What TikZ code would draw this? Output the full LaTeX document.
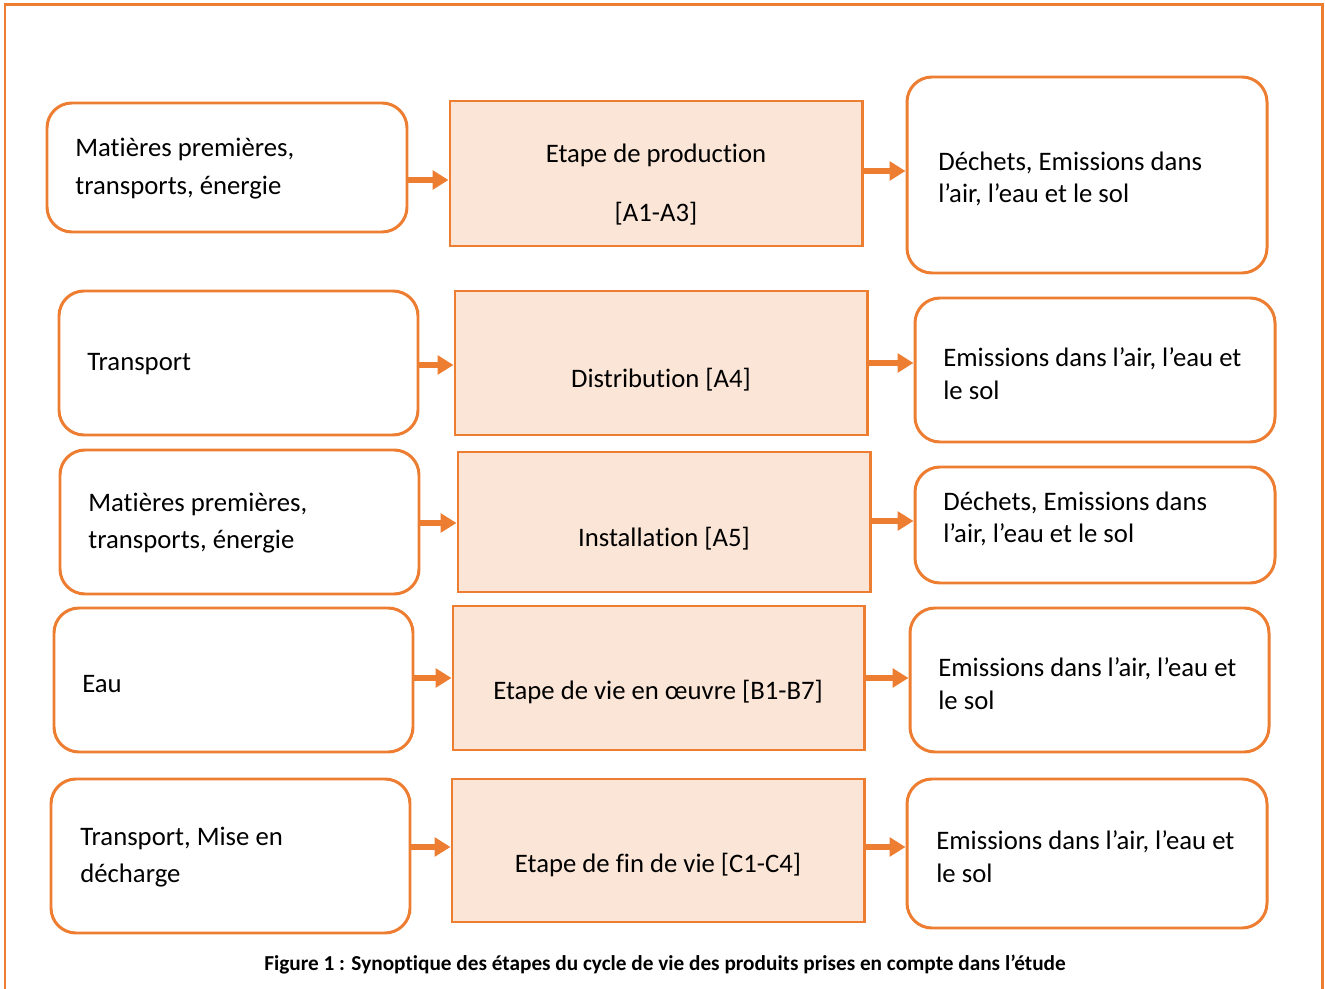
\documentclass[tikz,border=0pt]{standalone}
\usepackage{fontspec}
\setmainfont[Ligatures={TeX,NoCommon}]{Carlito}
\usetikzlibrary{arrows.meta,fit}
\definecolor{org}{HTML}{ED7D31}
\definecolor{pch}{HTML}{FBE5D6}
\begin{document}
\begin{tikzpicture}[x=0.02cm,y=-0.02cm,
  inbox/.style={draw=org, line width=1.7pt, rounded corners=0.5cm, inner sep=0pt},
  stepbox/.style={draw=org, line width=1.7pt, fill=pch, inner sep=0pt},
  arr/.style={draw=org, line width=3pt, -{Triangle[length=9pt,width=10.5pt]}},
  lt/.style={anchor=west, align=left, font=\fontsize{15.2}{21.5}\selectfont, inner sep=0pt},
  rt/.style={anchor=west, align=left, font=\fontsize{15.2}{18.7}\selectfont, inner sep=0pt},
  mt/.style={anchor=center, align=center, font=\fontsize{15.2}{16}\selectfont, inner sep=0pt}]
\useasboundingbox (0,0) rectangle (1325,989);
\draw[org, line width=1.7pt] (5,1000) -- (5,5) -- (1322,5) -- (1322,1000);
% row 1
\node[inbox, fit={(47,103) (407,232)}] (l1) {};
\node[stepbox, fit={(450,101) (862,246)}] (m1) {};
\node[inbox, fit={(907,77) (1267,273)}] (r1) {};
% row 2
\node[inbox, fit={(59,291) (418,435)}] (l2) {};
\node[stepbox, fit={(455,291) (867,435)}] (m2) {};
\node[inbox, fit={(915,298) (1275,442)}] (r2) {};
% row 3
\node[inbox, fit={(60,450) (419,594)}] (l3) {};
\node[stepbox, fit={(458,452) (870,592)}] (m3) {};
\node[inbox, fit={(915,467) (1275,583)}] (r3) {};
% row 4
\node[inbox, fit={(54,608) (413,752)}] (l4) {};
\node[stepbox, fit={(453,606) (864,750)}] (m4) {};
\node[inbox, fit={(910,608) (1269,752)}] (r4) {};
% row 5
\node[inbox, fit={(51,779) (410,933)}] (l5) {};
\node[stepbox, fit={(452,779) (864,922)}] (m5) {};
\node[inbox, fit={(907,779) (1267,928)}] (r5) {};
% arrow levels
\coordinate (a1) at (0,180); \coordinate (b1) at (0,171);
\coordinate (a2) at (0,365); \coordinate (b2) at (0,363);
\coordinate (a3) at (0,523); \coordinate (b3) at (0,521);
\coordinate (a4) at (0,678); \coordinate (b4) at (0,678);
\coordinate (a5) at (0,847); \coordinate (b5) at (0,847);
\foreach \i in {1,...,5}{
  \draw[arr] (l\i.east |- a\i) -- (m\i.west |- a\i);
  \draw[arr] (m\i.east |- b\i) -- (r\i.west |- b\i);
}
% texts
\node[lt] (t1l) at (75,169) {Matières premières,\\transports, énergie};
\node[mt] (t1m) at (656,155) {Etape de production};
\node[mt] (t1n) at (656,214) {[A1-A3]};
\node[rt] (t1r) at (938,179) {Déchets, Emissions dans\\l’air, l’eau et le sol};
\node[lt] (t2l) at (87,364) {Transport};
\node[mt] (t2m) at (661,380) {Distribution [A4]};
\node[rt] (t2r) at (943,374) {Emissions dans l’air, l’eau et\\le sol};
\node[lt] (t3l) at (88,523) {Matières premières,\\transports, énergie};
\node[mt] (t3m) at (664,539) {Installation [A5]};
\node[rt] (t3r) at (943,519) {Déchets, Emissions dans\\l’air, l’eau et le sol};
\node[lt] (t4l) at (82,684) {Eau};
\node[mt] (t4m) at (658,692) {Etape de vie en œuvre [B1-B7]};
\node[rt] (t4r) at (938,684) {Emissions dans l’air, l’eau et\\le sol};
\node[lt] (t5l) at (80,857) {Transport, Mise en\\décharge};
\node[mt] (t5m) at (658,865) {Etape de fin de vie [C1-C4]};
\node[rt] (t5r) at (936,857) {Emissions dans l’air, l’eau et\\le sol};
\node[font=\bfseries\fontsize{12.1}{14}\selectfont, inner sep=0pt] (cap) at (665,965) {Figure 1 : Synoptique des étapes du cycle de vie des produits prises en compte dans l’étude};
\end{tikzpicture}
\end{document}
